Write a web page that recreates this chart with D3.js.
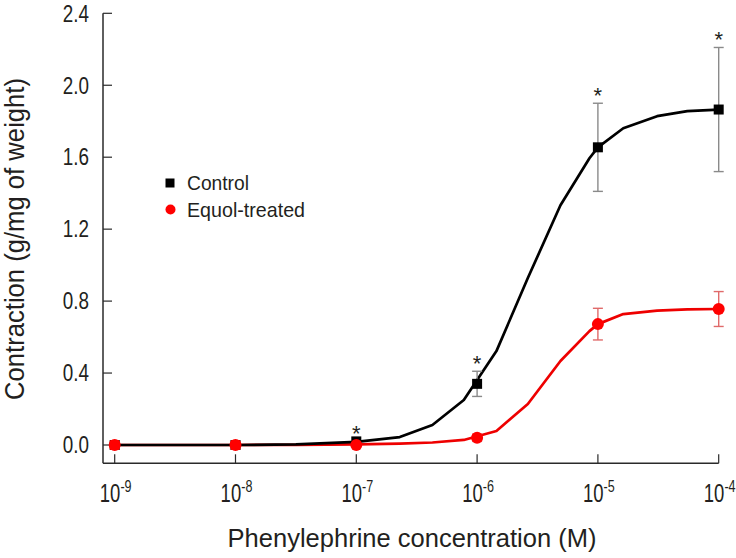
<!DOCTYPE html>
<html><head><meta charset="utf-8">
<script src="https://cdn.jsdelivr.net/npm/d3@7"></script>
<style>
html,body{margin:0;padding:0;background:#fff;}
text{font-family:'Liberation Sans',Arial,sans-serif;fill:#231f20;}
</style></head>
<body><svg id="chart" width="736" height="558"></svg>
<script>
// concentrations (log10 M)
const doseExp = [-9, -8, -7, -6, -5, -4];
const controlMean = [0.0, 0.0, 0.02, 0.34, 1.655, 1.865];
const controlErr  = [0.0, 0.0, 0.0, 0.07, 0.245, 0.345];
const controlSig  = [false, false, true, true, true, true];
const equolMean = [0.0, 0.0, 0.0, 0.04, 0.672, 0.756];
const equolErr  = [0.0, 0.0, 0.0, 0.02, 0.088, 0.097];
// fitted curves (log10 M, contraction)
const curveExp = [-9, -8, -7.5, -7, -6.64, -6.37, -6.11, -5.84, -5.58, -5.31, -5.07, -5, -4.79, -4.51, -4.26, -4];
const controlFit = [0, 0, 0.003, 0.017, 0.044, 0.111, 0.25, 0.522, 0.928, 1.333, 1.594, 1.655, 1.761, 1.828, 1.856, 1.865];
const equolFit   = [0, 0, 0.001, 0.003, 0.008, 0.014, 0.028, 0.078, 0.228, 0.467, 0.633, 0.672, 0.728, 0.747, 0.754, 0.756];
const yTicks = [0.0, 0.4, 0.8, 1.2, 1.6, 2.0, 2.4];
const legendLabels = ["Control", "Equol-treated"];
const xTitle = "Phenylephrine concentration (M)";
const yTitle = "Contraction (g/mg of weight)";

const svg = d3.select("#chart");
const x = d3.scaleLog().domain([1e-9, 1e-4]).range([114.7, 718.7]);
const y = d3.scaleLinear().domain([0, 2.4]).range([445, 13.3]);
const axisColor = "#2a2a2a";
const red = "#ff0000", redLine = "#ee0000", redErr = "#e06a6a", greyErr = "#8a8a8a";
const px = e => x(Math.pow(10, e));

// axes
const axisY = 463.3, axisX = 103;
svg.append("line").attr("x1", axisX).attr("x2", axisX).attr("y1", y(2.4)).attr("y2", axisY)
  .attr("stroke", axisColor).attr("stroke-width", 1.5);
svg.append("line").attr("x1", axisX).attr("x2", px(-4)).attr("y1", axisY).attr("y2", axisY)
  .attr("stroke", axisColor).attr("stroke-width", 1.5);
yTicks.forEach(t => {
  svg.append("line").attr("x1", axisX).attr("x2", axisX + 9).attr("y1", y(t)).attr("y2", y(t))
    .attr("stroke", axisColor).attr("stroke-width", 1.2);
  svg.append("g").attr("transform", `translate(89,${y(t)}) scale(0.82,1)`)
    .append("text").attr("dy", "0.36em").attr("text-anchor", "end")
    .attr("font-size", 23).text(t.toFixed(1));
});
doseExp.forEach(e => {
  svg.append("line").attr("x1", px(e)).attr("x2", px(e)).attr("y1", axisY).attr("y2", axisY - 9)
    .attr("stroke", axisColor).attr("stroke-width", 1.2);
  const t = svg.append("g").attr("transform", `translate(${px(e) + 1},502) scale(0.74,1)`)
    .append("text").attr("text-anchor", "middle").attr("font-size", 25);
  t.append("tspan").text("10");
  t.append("tspan").attr("dy", -10).attr("font-size", 17).text(String(e));
});

// titles
svg.append("text").attr("x", 412).attr("y", 547).attr("text-anchor", "middle").attr("font-size", 25.5)
  .attr("textLength", 369).attr("lengthAdjust", "spacingAndGlyphs").text(xTitle);
svg.append("text").attr("transform", "translate(24,239) rotate(-90)").attr("text-anchor", "middle")
  .attr("font-size", 27).attr("textLength", 322).attr("lengthAdjust", "spacingAndGlyphs").text(yTitle);

// curves
const line = d3.line().x((d, i) => px(curveExp[i])).y(d => y(d));
svg.append("path").attr("d", line(equolFit)).attr("fill", "none").attr("stroke", redLine).attr("stroke-width", 2.7).attr("stroke-linejoin", "round");
svg.append("path").attr("d", line(controlFit)).attr("fill", "none").attr("stroke", "#000").attr("stroke-width", 2.7).attr("stroke-linejoin", "round");

// error bars
function errBars(mean, err, color) {
  doseExp.forEach((e, i) => {
    if (err[i] <= 0) return;
    const cx = px(e), y1 = y(mean[i] + err[i]), y2 = y(mean[i] - err[i]);
    const g = svg.append("g").attr("stroke", color).attr("stroke-width", 1.4);
    g.append("line").attr("x1", cx).attr("x2", cx).attr("y1", y1).attr("y2", y2);
    g.append("line").attr("x1", cx - 5).attr("x2", cx + 5).attr("y1", y1).attr("y2", y1);
    g.append("line").attr("x1", cx - 5).attr("x2", cx + 5).attr("y1", y2).attr("y2", y2);
  });
}
errBars(controlMean, controlErr, greyErr);
errBars(equolMean, equolErr, redErr);

// markers
doseExp.forEach((e, i) => {
  svg.append("rect").attr("x", px(e) - 5).attr("y", y(controlMean[i]) - 5).attr("width", 10).attr("height", 10).attr("fill", "#000");
});
doseExp.forEach((e, i) => {
  svg.append("circle").attr("cx", px(e)).attr("cy", y(equolMean[i])).attr("r", 6).attr("fill", red);
});
doseExp.forEach((e, i) => {
  if (i < 2) svg.append("rect").attr("x", px(e) - 5).attr("y", y(equolMean[i]) - 5).attr("width", 10).attr("height", 10).attr("rx", 1.5).attr("fill", red);
});

// significance asterisks
doseExp.forEach((e, i) => {
  if (!controlSig[i]) return;
  const base = controlErr[i] > 0 ? y(controlMean[i] + controlErr[i]) : y(controlMean[i]) - 5 + 5;
  svg.append("text").attr("x", px(e)).attr("y", base).attr("text-anchor", "middle").attr("font-size", 22).text("*");
});

// legend
svg.append("rect").attr("x", 165.5).attr("y", 178.5).attr("width", 9).attr("height", 9).attr("fill", "#000");
svg.append("circle").attr("cx", 170.5).attr("cy", 209.5).attr("r", 5).attr("fill", red);
svg.append("text").attr("x", 187).attr("y", 190).attr("font-size", 21).attr("textLength", 62).attr("lengthAdjust", "spacingAndGlyphs").text(legendLabels[0]);
svg.append("text").attr("x", 187).attr("y", 216.5).attr("font-size", 21).attr("textLength", 118).attr("lengthAdjust", "spacingAndGlyphs").text(legendLabels[1]);
</script></body></html>
